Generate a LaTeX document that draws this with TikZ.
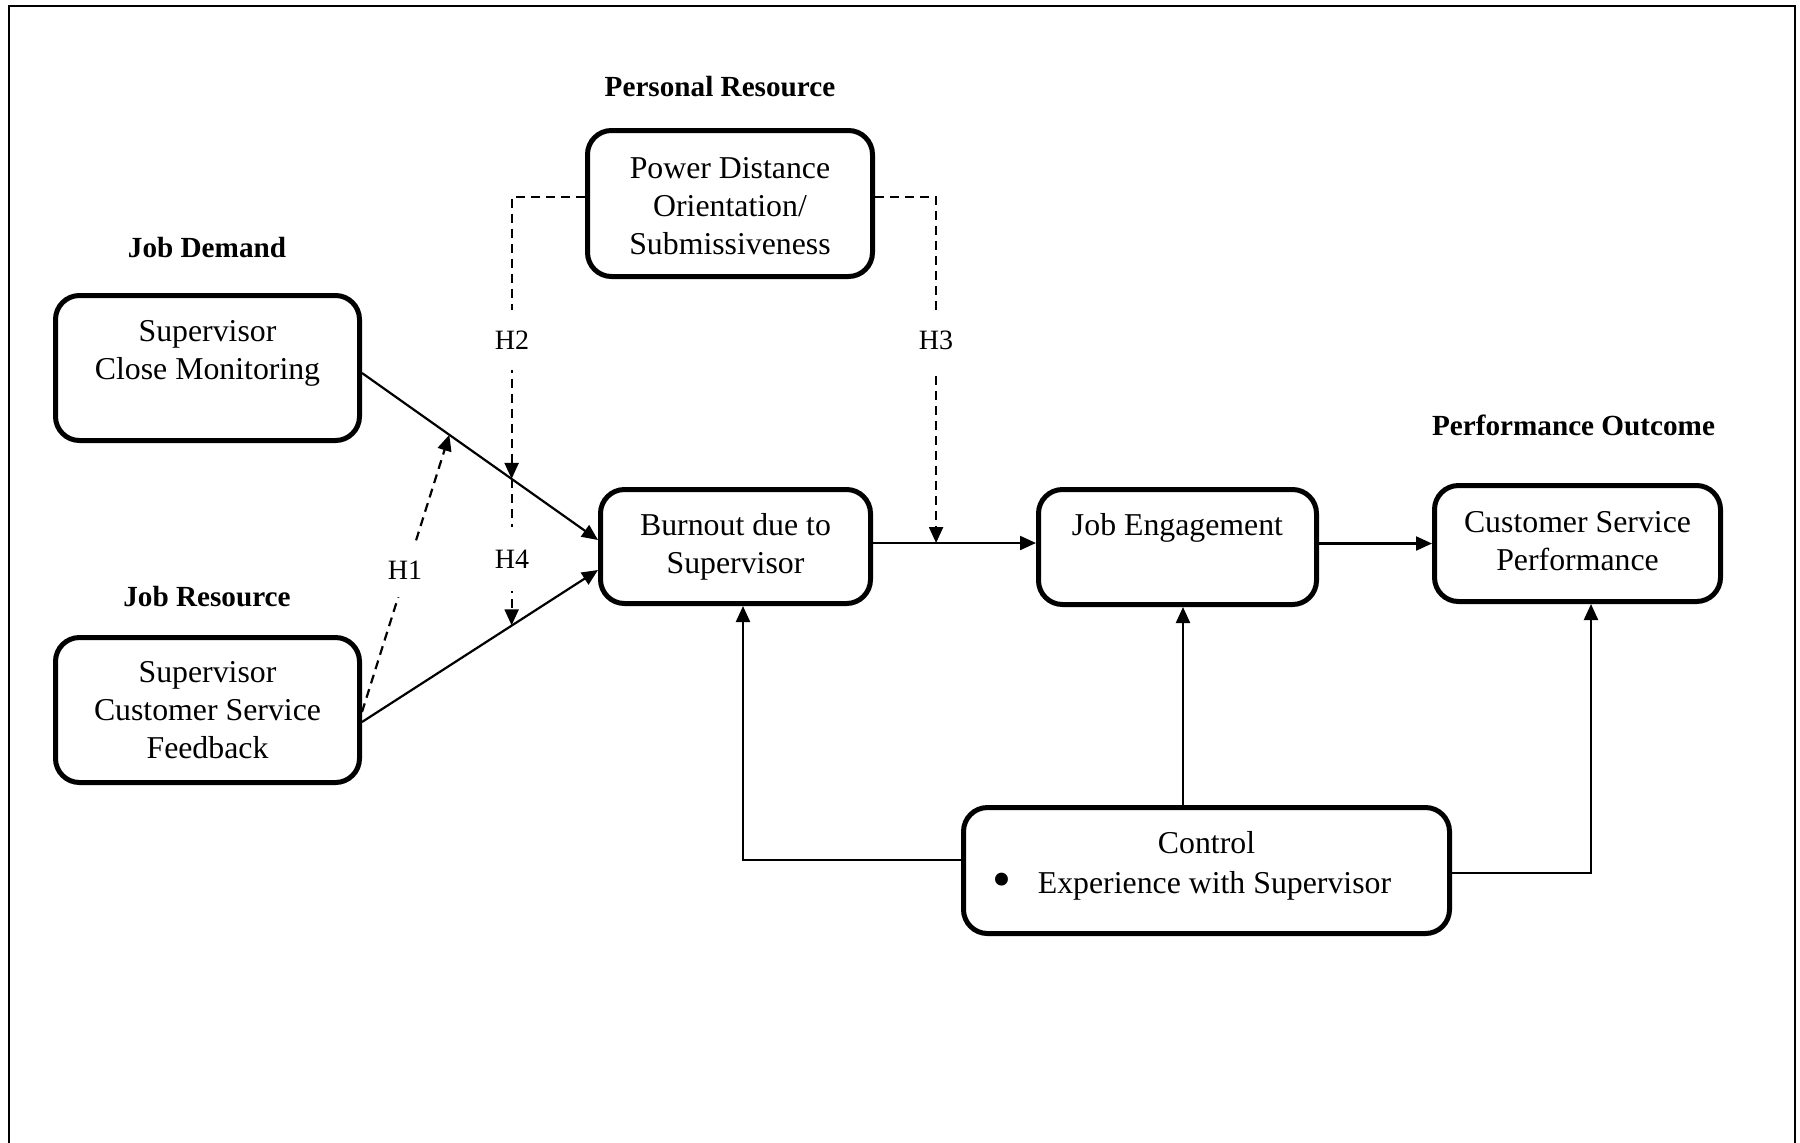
\documentclass[tikz,border=0pt]{standalone}
\usepackage{fontspec}
\setmainfont{Liberation Serif}
\usetikzlibrary{arrows.meta,calc}
\begin{document}
\begin{tikzpicture}[x=0.5pt,y=-0.5pt,
  box/.style={draw, line width=2.5pt, rounded corners=12pt, align=center,
    font=\fontsize{15.9pt}{19pt}\selectfont, inner sep=0pt},
  head/.style={font=\fontsize{14.6pt}{17pt}\selectfont\bfseries, anchor=base, inner sep=0pt},
  conn/.style={line width=1.1pt, -{Triangle[length=8pt,width=7pt]}},
  dconn/.style={conn, dash pattern=on 4.5pt off 3pt},
  hlab/.style={fill=white, font=\fontsize{14pt}{16pt}\selectfont, inner xsep=1pt, minimum height=30pt}
]
\useasboundingbox (0,0) rectangle (1800,1142);
% frame
\draw[line width=1.25pt] (9,1200) -- (9,6) -- (1795,6) -- (1795,1200);

% headings
\node[head] (hjd) at (207,257) {Job Demand};
\node[head] (hjr) at (207,606) {Job Resource};
\node[head] (hpr) at (720,96) {Personal Resource};
\node[head] (hpo) at (1573.5,435) {Performance Outcome};

% boxes
\node[box, minimum width=152pt, minimum height=72.5pt] (scm) at (207.5,368) {Supervisor\\Close Monitoring\\[-1.3pt]\mbox{}};
\node[box, minimum width=152pt, minimum height=72.5pt] (scsf) at (207.5,710) {Supervisor\\Customer Service\\Feedback};
\node[box, minimum width=142.5pt, minimum height=73pt] (pd) at (730,203.5) {\rule{0pt}{12.8pt}Power Distance\\Orientation/\\Submissiveness};
\node[box, minimum width=135pt, minimum height=57pt] (bo) at (735.5,546.5) {Burnout due to\\Supervisor};
\node[box, minimum width=139pt, minimum height=57.5pt] (je) at (1177.5,547) {Job Engagement\\\rule[-3.4pt]{0pt}{3.4pt}};
\node[box, minimum width=143pt, minimum height=58pt] (csp) at (1577.5,543.5) {Customer Service\\Performance\rule[-2.3pt]{0pt}{1pt}};
\node[box, minimum width=243pt, minimum height=63pt, font=\fontsize{15.9pt}{20pt}\selectfont] (ctrl) at (1206.5,870.5)
  {Control\\\raisebox{-2pt}{\scalebox{1.7}{\textbullet}}\hspace{13pt}Experience with Supervisor\rule{14.5pt}{0pt}\\[-12pt]\mbox{}};

% main paths
\coordinate (a1) at ($(scm.east)+(0,5)$);
\coordinate (b1) at ($(bo.west)+(0,-6.5)$);
\coordinate (a2) at ($(scsf.east)+(0,12)$);
\coordinate (b2) at ($(bo.west)+(0,23.5)$);
\draw[conn] (a1) -- (b1);
\draw[conn] (a2) -- (b2);
\coordinate (h1tip) at ($(a1)!0.37!(b1)$);
\coordinate (h2tip) at ($(a1)!0.634!(b1)$);
\coordinate (h4tip) at ($(a2)!0.636!(b2)$);

\coordinate (c1) at ($(bo.east)+(0,-3.5)$);
\coordinate (d1) at ($(je.west)+(0,-4)$);
\draw[conn] (c1) -- (d1);
\coordinate (h3tip) at ($(c1)!0.387!(d1)$);
\draw[conn] ($(je.east)+(0,-3.5)$) -- (csp.west);

% moderators
\draw[dconn] ($(scsf.east)+(0,2)$) -- (h1tip);
\draw[dconn] ($(pd.west)+(0,-6.5)$) -| (h2tip);
\draw[dconn] (h2tip) -- (h2tip |- h4tip);
\draw[dconn] ($(pd.east)+(0,-6.5)$) -| (h3tip);

\node[hlab, minimum height=27pt] (lh1) at (405,570) {H1};
\node[hlab] (lh2) at (512,340) {H2};
\node[hlab] (lh3) at (936,340) {H3};
\node[hlab, minimum height=32pt] (lh4) at (512,559) {H4};

% control
\draw[conn] ($(ctrl.west)+(0,-10.5)$) -| ($(bo.south)+(7.5,0)$);
\draw[conn] ($(ctrl.north)+(-23.5,0)$) -- ($(je.south)+(5.5,0)$);
\draw[conn] ($(ctrl.east)+(0,2.5)$) -| ($(csp.south)+(13.5,0)$);
\end{tikzpicture}
\end{document}
